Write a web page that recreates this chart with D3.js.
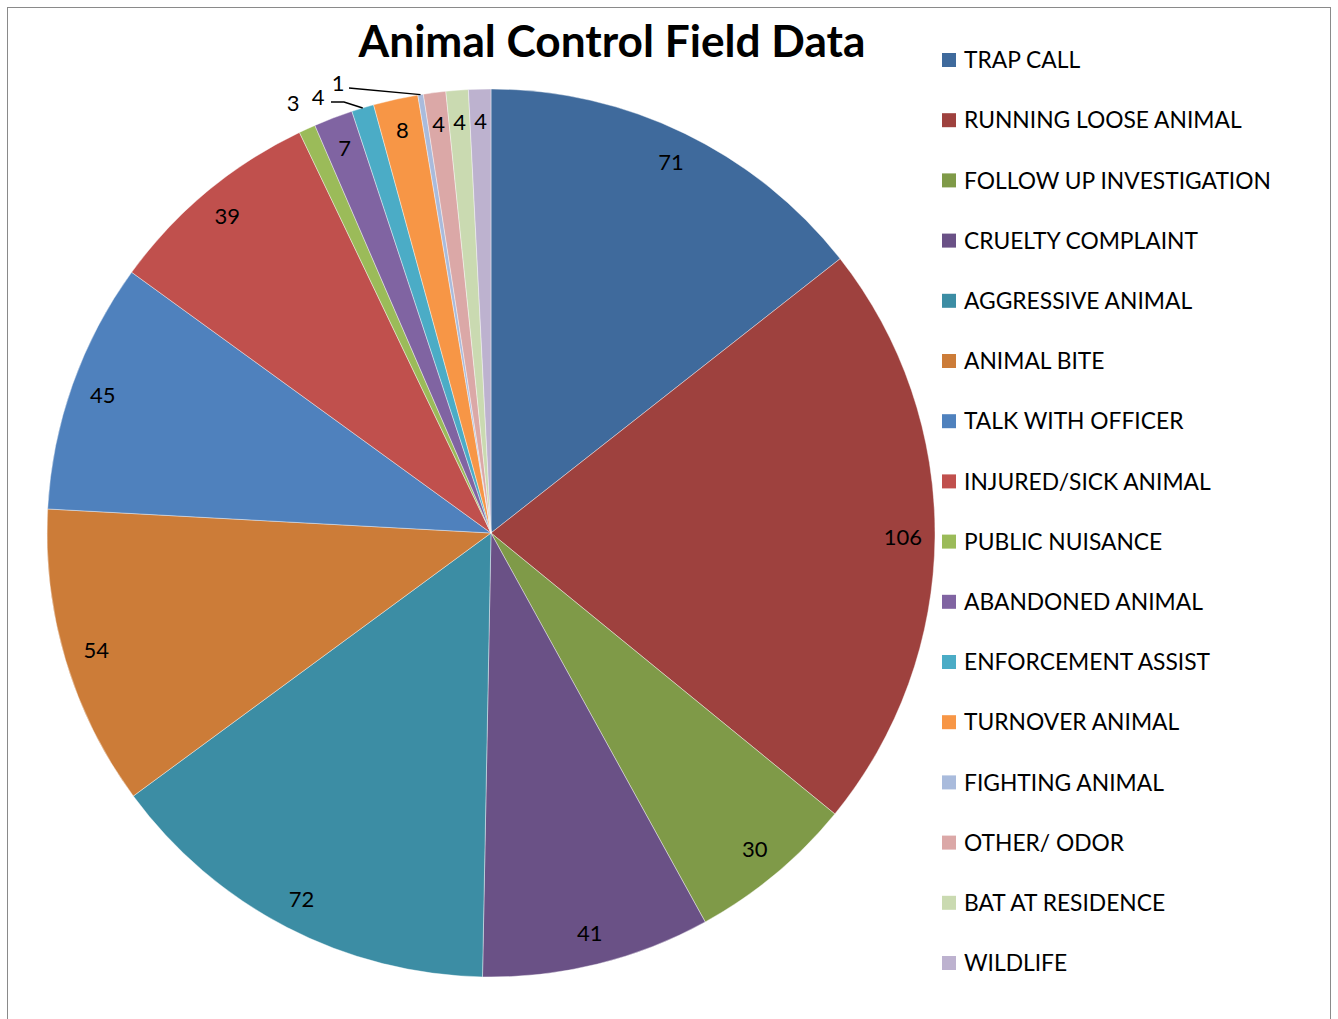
<!DOCTYPE html>
<html><head><meta charset="utf-8">
<script src="https://cdn.jsdelivr.net/npm/d3@7"></script>
<style>body{margin:0;background:#fff}svg{display:block}</style>
</head><body>
<svg id="c" width="1338" height="1019"></svg>
<script>
const categories = ["TRAP CALL","RUNNING LOOSE ANIMAL","FOLLOW UP INVESTIGATION","CRUELTY COMPLAINT","AGGRESSIVE ANIMAL","ANIMAL BITE","TALK WITH OFFICER","INJURED/SICK ANIMAL","PUBLIC NUISANCE","ABANDONED ANIMAL","ENFORCEMENT ASSIST","TURNOVER ANIMAL","FIGHTING ANIMAL","OTHER/ ODOR","BAT AT RESIDENCE","WILDLIFE"];
const values = [71,106,30,41,72,54,45,39,3,7,4,8,1,4,4,4];
const colors = ["#3F6A9C","#9E413E","#7F9A48","#6A5186","#3C8DA4","#CC7C38","#4F81BD","#C0504D","#9BBB59","#8064A2","#4BACC6","#F79646","#A9BBDC","#DBA8A7","#CADAB1","#BDB2CF"];
const title = "Animal Control Field Data";
const outsideIdx = [8,10,12];

const svg = d3.select("#c");
const font = "Lato, 'Open Sans', sans-serif";
svg.append("rect").attr("x",7.5).attr("y",7.5).attr("width",1323).attr("height",1100)
  .attr("fill","#fff").attr("stroke","#8a8a8a").attr("stroke-width",1);

const t = svg.append("text").attr("x",612).attr("y",57).attr("text-anchor","middle")
  .attr("font-family",font).attr("font-weight","bold").attr("font-size",40).attr("fill","#000").text(title);
const tw = t.node().getComputedTextLength();
t.attr("font-size", 40*507/tw);

const cx=491, cy=533, r=444;
const g = svg.append("g").attr("transform",`translate(${cx},${cy})`);
const pie = d3.pie().sort(null).value(d=>d.v);
const data = pie(values.map((v,i)=>({v,i})));
const arc = d3.arc().innerRadius(0).outerRadius(r);
g.selectAll("path").data(data).join("path").attr("d",arc)
  .attr("fill",d=>colors[d.data.i]).attr("stroke","#fff").attr("stroke-opacity",0.5).attr("stroke-width",0.8);

const labelArc = d3.arc().innerRadius(r-32).outerRadius(r-32);
data.forEach(d=>{
  if(outsideIdx.includes(d.data.i)) return;
  const [x,y] = labelArc.centroid(d);
  g.append("text").attr("x",x).attr("y",y).attr("dy","0.35em").attr("text-anchor","middle")
   .attr("font-family",font).attr("font-size",22).attr("fill","#000").text(d.data.v);
});
const outer = d3.arc().innerRadius(r).outerRadius(r);
function outLabel(i, lx, ly, pts){
  const d = data[i];
  const [ex,ey] = outer.centroid(d);
  if(pts){
    const line = [[pts[0]-cx, pts[1]-cy]].concat(pts.length>2?[[pts[2]-cx,pts[3]-cy]]:[]).concat([[ex,ey]]);
    g.append("path").attr("d",d3.line()(line)).attr("fill","none").attr("stroke","#000").attr("stroke-width",1.5);
  }
  g.append("text").attr("x",lx-cx).attr("y",ly-cy).attr("dy","0.35em").attr("text-anchor","middle")
   .attr("font-family",font).attr("font-size",22).attr("fill","#000").text(d.data.v);
}
outLabel(8, 293, 103, null);
outLabel(10, 318, 97, [331,102,344,102]);
outLabel(12, 338, 83, [349,88]);

const leg = svg.append("g");
categories.forEach((c,i)=>{
  const y = 60 + i*60.2;
  leg.append("rect").attr("x",942).attr("y",y-7).attr("width",14).attr("height",14).attr("fill",colors[i]);
  leg.append("text").attr("x",964).attr("y",y).attr("dy","0.36em").attr("font-family",font)
    .attr("font-size",22.8).attr("fill","#000").text(c);
});
</script>
</body></html>
